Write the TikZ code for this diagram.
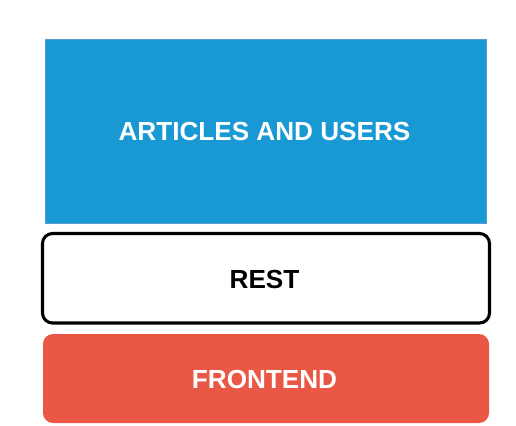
\documentclass[tikz,border=0pt]{standalone}
\usepackage{fontspec}
\setmainfont{Liberation Sans}
\definecolor{artblue}{HTML}{1899D3}
\definecolor{artborder}{HTML}{5A9BD0}
\definecolor{frontred}{HTML}{EA5744}
\begin{document}
\begin{tikzpicture}[x=0.75pt,y=-0.75pt,
  lbl/.style={font=\bfseries\fontsize{19.6}{23}\selectfont},
  bluebox/.style={fill=artblue,draw=artborder,line width=0.6pt},
  restbox/.style={fill=white,draw=black,line width=2.3pt,rounded corners=7.5pt},
  frontbox/.style={fill=frontred,draw=none,rounded corners=7.5pt}]
\useasboundingbox (0,0) rectangle (516,425);
\fill[white] (0,0) rectangle (516,425);
\draw[bluebox] (45,39) rectangle (486.5,223);
\node[lbl,white] (art) at (264.5,131) {ARTICLES AND USERS};
\draw[restbox] (42.5,233.5) rectangle (489.5,323);
\node[lbl,black] (rest) at (264.5,279) {REST};
\fill[frontbox] (43,334) rectangle (489,423);
\node[lbl,white] (front) at (264.5,379) {FRONTEND};
\end{tikzpicture}
\end{document}
